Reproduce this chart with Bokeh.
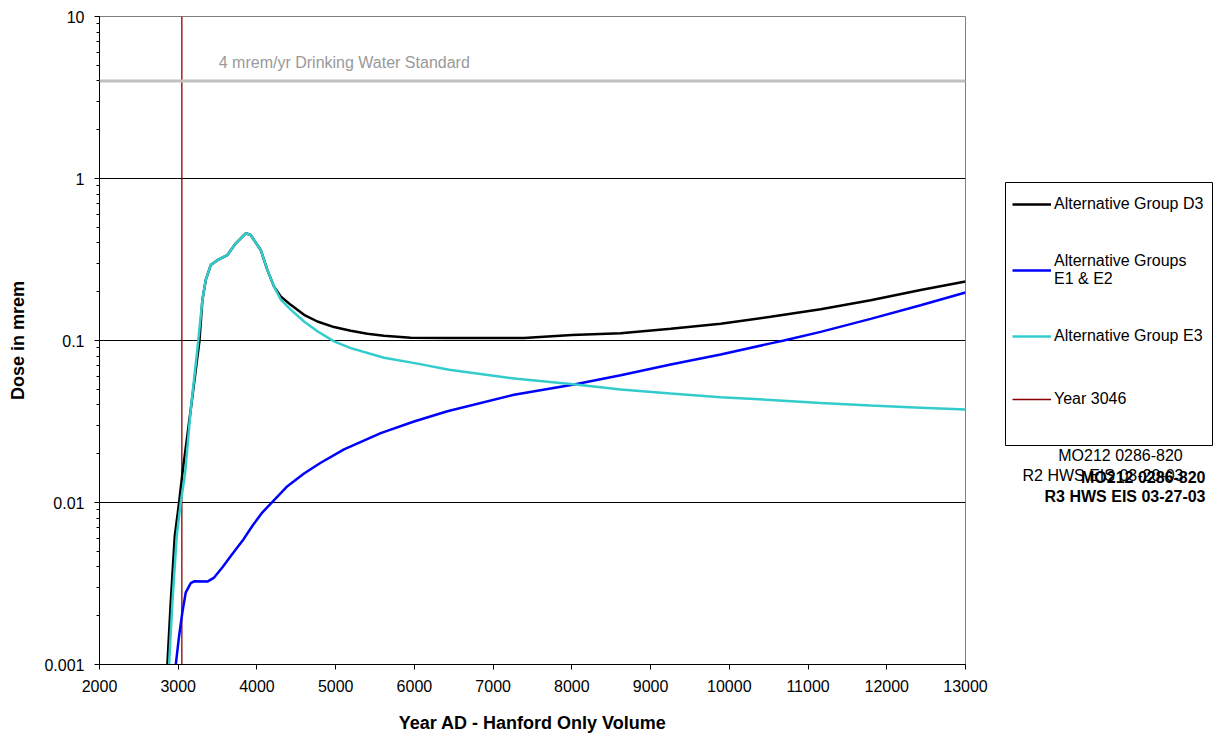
from bokeh.plotting import figure
from bokeh.layouts import row
from bokeh.models import (Range1d, Legend, LegendItem, Label, Span, LogTicker, BoxAnnotation,
                          SingleIntervalTicker, CustomJSTickFormatter)
from bokeh.embed import file_html
from bokeh.resources import INLINE

FONT = "Liberation Sans"

# ---------------- data ----------------
d3_years = [2862, 2905, 2956, 3011, 3053, 3159, 3270, 3307, 3350, 3413, 3498, 3625, 3731,
            3858, 3921, 4048, 4133, 4217, 4302, 4429, 4598, 4768, 4979, 5191, 5403, 5614,
            5953, 6461, 7392, 8000, 8620, 9255, 9890, 10525, 11160, 11795, 12430, 13000]
d3_dose = [0.001, 0.00243, 0.0062, 0.01, 0.0151, 0.0375, 0.1, 0.178, 0.237, 0.292, 0.313, 0.337, 0.398,
           0.459, 0.448, 0.362, 0.272, 0.215, 0.187, 0.166, 0.144, 0.131, 0.121, 0.115, 0.110, 0.107,
           0.104, 0.1035, 0.1035, 0.108, 0.111, 0.118, 0.127, 0.140, 0.156, 0.177, 0.205, 0.231]

e12_years = [2969, 3011, 3053, 3096, 3159, 3201, 3371, 3456, 3562, 3689, 3816, 3943, 4070,
             4197, 4387, 4598, 4810, 5106, 5572, 5995, 6419, 7265, 8027, 8620, 9255, 9890,
             10525, 10693, 11160, 11795, 12430, 13000]
e12_dose = [0.001, 0.0015, 0.00211, 0.00279, 0.00318, 0.00326, 0.00325, 0.00344, 0.00398, 0.00483,
            0.0058, 0.00719, 0.0087, 0.0101, 0.0126, 0.0151, 0.0176, 0.0213, 0.0268, 0.0316, 0.0366,
            0.0463, 0.0535, 0.061, 0.071, 0.082, 0.096, 0.100, 0.113, 0.136, 0.165, 0.198]

e3_years = [2884, 2926, 2981, 3032, 3087, 3159, 3243, 3307, 3350, 3413, 3498, 3625, 3731,
            3858, 3921, 4048, 4133, 4217, 4302, 4429, 4598, 4768, 4979, 5191, 5614, 6038,
            6440, 7300, 8050, 8620, 9255, 9890, 10525, 11160, 11795, 12430, 13000]
e3_dose = [0.001, 0.00243, 0.0062, 0.01, 0.0151, 0.0375, 0.088, 0.178, 0.237, 0.292, 0.313, 0.337, 0.398,
           0.459, 0.448, 0.362, 0.272, 0.215, 0.179, 0.155, 0.131, 0.114, 0.0987, 0.0897, 0.0783, 0.072,
           0.066, 0.058, 0.0535, 0.0498, 0.047, 0.0446, 0.043, 0.0412, 0.0397, 0.0385, 0.0375]

marker_year = 3046
standard_dose = 4
x_limits = [2000, 13000]
y_limits = [0.001, 10]

series_names = ["Alternative Group D3", "Alternative Groups\nE1 & E2",
                "Alternative Group E3", "Year 3046"]
series_colors = ["#000000", "#0000FF", "#33CCCC", "#8B0000"]
series_widths = [2.5, 2.5, 2.5, 1.3]

# ---------------- main figure ----------------
p = figure(width=990, height=743, output_backend="svg", toolbar_location=None,
           y_axis_type="log",
           x_range=Range1d(*x_limits), y_range=Range1d(*y_limits),
           min_border_left=99, min_border_right=25, min_border_top=16, min_border_bottom=79)
p.outline_line_color = "#808080"
p.background_fill_color = "white"
p.border_fill_color = "white"

p.xgrid.grid_line_color = None
p.ygrid.grid_line_color = "#000000"
p.ygrid.grid_line_width = 1

p.xaxis.ticker = SingleIntervalTicker(interval=1000, num_minor_ticks=0)
p.yaxis.ticker = LogTicker(num_minor_ticks=10)
p.yaxis.formatter = CustomJSTickFormatter(code="return tick.toString();")
for ax in (p.xaxis[0], p.yaxis[0]):
    ax.axis_line_color = "black"
    ax.major_tick_line_color = "black"
    ax.minor_tick_line_color = "black"
    ax.major_tick_in = 0
    ax.major_tick_out = 5
    ax.minor_tick_in = 0
    ax.minor_tick_out = 3
    ax.major_label_text_font = FONT
    ax.major_label_text_font_size = "16px"
    ax.major_label_text_color = "black"
    ax.major_label_standoff = 10
    ax.axis_label_text_font = FONT
    ax.axis_label_text_font_size = "18px"
    ax.axis_label_text_font_style = "bold"
    ax.axis_label_text_color = "black"
p.xaxis.axis_label = "Year AD - Hanford Only Volume"
p.yaxis.axis_label = "Dose in mrem"
p.xaxis.axis_label_standoff = 18
p.yaxis.axis_label_standoff = 13

p.add_layout(Span(location=standard_dose, dimension="width", line_color="#C0C0C0", line_width=3))
p.add_layout(Label(x=3515, y=5.2, text="4 mrem/yr Drinking Water Standard",
                   text_font=FONT, text_font_size="16px", text_color="#999999",
                   text_baseline="middle", text_align="left"))

p.line([marker_year, marker_year], y_limits, line_color=series_colors[3], line_width=series_widths[3])
p.line(d3_years, d3_dose, line_color=series_colors[0], line_width=series_widths[0])
p.line(e12_years, e12_dose, line_color=series_colors[1], line_width=series_widths[1])
p.line(e3_years, e3_dose, line_color=series_colors[2], line_width=series_widths[2])

# ---------------- legend panel (pixel-like data space) ----------------
p2 = figure(width=238, height=743, output_backend="svg", toolbar_location=None,
            x_axis_type=None, y_axis_type=None,
            x_range=Range1d(0, 233), y_range=Range1d(0, 648),
            min_border_left=5, min_border_right=0, min_border_top=16, min_border_bottom=79)
p2.outline_line_color = None
p2.grid.visible = False
p2.background_fill_color = "white"
p2.border_fill_color = "white"

# swatch renderers for the legend (placed outside the visible area)
legend_renderers = [p2.line([-50, -40], [-50, -40], line_color=c, line_width=w)
                    for c, w in zip(series_colors, series_widths)]

p2.add_layout(BoxAnnotation(left=10, right=217, bottom=219, top=482,
                            fill_alpha=0, line_color="black", line_width=1, line_alpha=1))

legend = Legend(items=[LegendItem(label=n, renderers=[r]) for n, r in zip(series_names, legend_renderers)],
                location=(17, 250))
legend.margin = 0
legend.border_line_color = None
legend.background_fill_alpha = 0
legend.label_text_font = FONT
legend.label_text_font_size = "16px"
legend.label_text_color = "black"
legend.glyph_width = 39
legend.glyph_height = 20
legend.label_height = 30
legend.label_standoff = 3
legend.padding = 8
legend.spacing = 33
p2.add_layout(legend, "center")

stamp_kw = dict(text_font=FONT, text_font_size="16px", text_color="black", text_baseline="middle")
p2.add_layout(Label(x=125, y=209, text="MO212 0286-820", text_align="center", **stamp_kw))
p2.add_layout(Label(x=27, y=189, text="R2 HWS EIS 03-20-03", text_align="left", **stamp_kw))
p2.add_layout(Label(x=210, y=187, text="MO212 0286-820", text_align="right",
                    text_font_style="bold", **stamp_kw))
p2.add_layout(Label(x=210, y=168, text="R3 HWS EIS 03-27-03", text_align="right",
                    text_font_style="bold", **stamp_kw))

layout = row(p, p2, spacing=0)
open("out.html", "w").write(file_html(layout, INLINE))
